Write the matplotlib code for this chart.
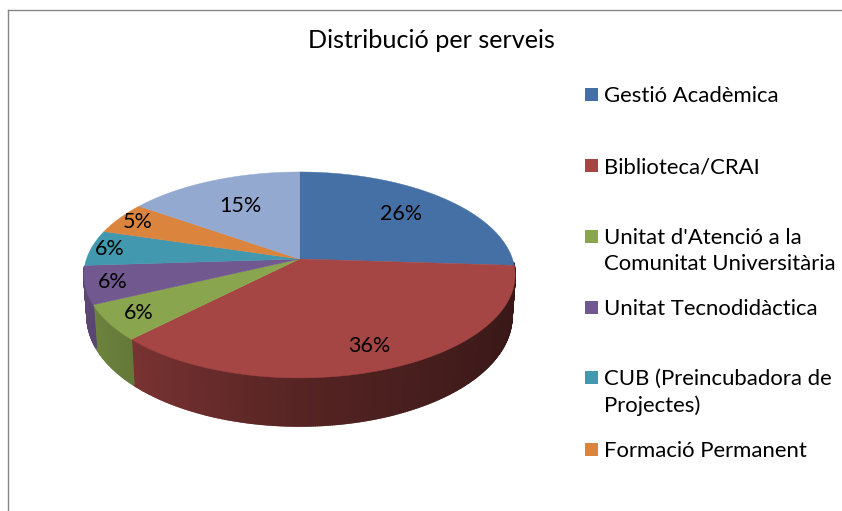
import numpy as np
import matplotlib
matplotlib.use("Agg")
import matplotlib.pyplot as plt

plt.rcParams['font.family'] = ['Lato', 'DejaVu Sans']

title = "Distribució per serveis"
# last slice has no visible legend entry in the picture
services = [
    "Gestió Acadèmica",
    "Biblioteca/CRAI",
    "Unitat d'Atenció a la\nComunitat Universitària",
    "Unitat Tecnodidàctica",
    "CUB (Preincubadora de\nProjectes)",
    "Formació Permanent",
]
shares = [26.0, 36.4, 5.6, 6.0, 5.6, 5.1, 15.3]
colors = ["#4470a5", "#a54544", "#89a54e", "#71588f", "#4198af", "#db843d", "#93a9cf"]

# where each percentage sits along the slice's middle radius
label_r = [0.72, 0.79, 0.84, 0.87, 0.91, 0.90, 0.68]
legend_y = [95, 166, 237, 308, 378, 450]

CX, CY = 299.5, 259
RX, RY = 213, 100.5
PERSP = 0.155


def project(deg, r=1.0):
    a = np.radians(deg)
    x = np.sin(a)
    z = -np.cos(a)
    s = 1 / (1 - PERSP * z)
    return CX + RX * r * x * s, CY + RY * r * z * s


def project_bottom(deg):
    a = np.radians(deg)
    x = np.sin(a)
    z = -np.cos(a)
    s = 1 / (1 - PERSP * z)
    return CX + RX * 0.985 * x * s, CY + RY * z * s + 40 + 8 * z


def shade(hex_color, deg):
    x = np.sin(np.radians(deg))
    f = np.interp(x, [-1, 0, 1], [0.82, 0.52, 0.34])
    return tuple(c * f for c in matplotlib.colors.to_rgb(hex_color))


fig = plt.figure(figsize=(8.42, 5.11), dpi=100)
ax = fig.add_axes([0, 0, 1, 1])
ax.set_xlim(0, 842)
ax.set_ylim(511, 0)
ax.axis("off")

ax.plot([8, 8], [511, 10], color="#868686", lw=1)
ax.plot([8, 842], [10, 10], color="#868686", lw=1)

edges = np.cumsum([0] + shares) / sum(shares) * 360

# side wall, one thin strip per step so the shading can run along it
for i, col in enumerate(colors):
    lo, hi = max(edges[i], 92), min(edges[i + 1], 266)
    if hi <= lo:
        continue
    steps = np.linspace(lo, hi, int((hi - lo) * 2) + 2)
    for a0, a1 in zip(steps[:-1], steps[1:]):
        x0, y0 = project(a0)
        x1, y1 = project(a1)
        x2, y2 = project_bottom(a1)
        x3, y3 = project_bottom(a0)
        c = shade(col, (a0 + a1) / 2)
        ax.fill([x0, x1, x2, x3], [y0, y1, y2, y3], color=c, lw=1.2)

# top surface
for i, col in enumerate(colors):
    angles = np.linspace(edges[i], edges[i + 1], 80)
    xs, ys = project(angles)
    ax.fill(np.r_[CX, xs], np.r_[CY, ys], color=col, lw=0.3)

for i, share in enumerate(shares):
    mid = (edges[i] + edges[i + 1]) / 2
    x, y = project(mid)
    lx = CX + (x - CX) * label_r[i]
    ly = CY + (y - CY) * label_r[i]
    ax.text(lx, ly, f"{share:.0f}%", fontsize=15.5, ha="center", va="center", color="black")

ax.text(431, 41, title, fontsize=18.2, ha="center", va="center", color="black")

for name, col, y in zip(services, colors, legend_y):
    ax.add_patch(plt.Rectangle((585, y - 7), 13, 13, color=col, lw=0))
    ax.text(604, y - 9, name, fontsize=15.9, ha="left", va="top", color="black", linespacing=1.36)

fig.savefig("out.png", dpi=100)
